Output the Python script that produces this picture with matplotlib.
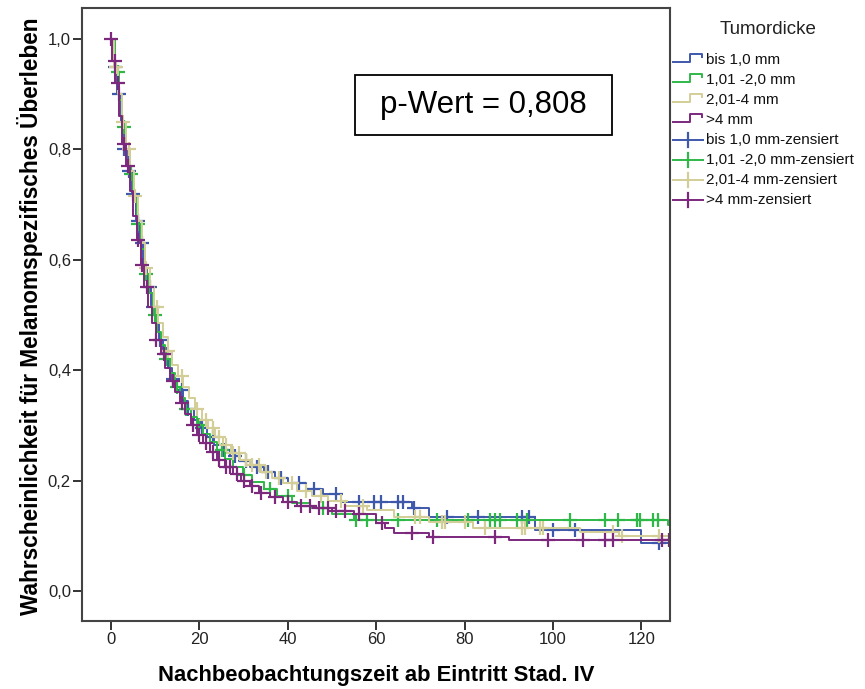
import numpy as np
import matplotlib
matplotlib.use("Agg")
import matplotlib.pyplot as plt
from matplotlib.lines import Line2D
from matplotlib.patches import Rectangle

plt.rcParams['font.family'] = ['Liberation Sans', 'DejaVu Sans']

# Kaplan-Meier steps per Tumordicke group: event times (months) and survival after each event
blue_t = [0.6, 1.4, 2.2, 3.0, 3.9, 4.7, 5.6, 6.4, 7.3, 8.1, 9.0, 9.9, 10.8, 11.8, 12.8, 13.9,
          15.0, 16.2, 17.5, 18.8, 20.2, 21.8, 23.4, 25.2, 27.0, 29.0, 31.5, 34.5, 37.0, 40.0,
          44.0, 48.0, 52.0, 68.0, 72.0, 96.0, 120.0]
blue_s = [0.95, 0.90, 0.85, 0.80, 0.76, 0.72, 0.67, 0.63, 0.585, 0.55, 0.515, 0.485, 0.455, 0.43,
          0.405, 0.385, 0.365, 0.345, 0.33, 0.31, 0.295, 0.28, 0.265, 0.255, 0.245, 0.235, 0.225,
          0.215, 0.205, 0.195, 0.185, 0.176, 0.162, 0.15, 0.135, 0.11, 0.087]
blue_cens = [0.9, 1.8, 3.0, 4.1, 5.0, 6.0, 7.0, 8.8, 9.5, 11.0, 12.5, 14.0, 16.0, 17.5, 20.5,
             23.0, 25.5, 28.0, 30.5, 33.0, 35.5, 38.5, 42.5, 46.0, 51.0, 56.0, 59.5, 61.0, 65.0,
             66.0, 68.5, 76.0, 83.0, 93.0, 94.5, 100.0, 105.0, 124.0]

green_t = [0.9, 1.7, 2.5, 3.4, 4.2, 5.0, 5.8, 6.7, 7.6, 8.5, 9.4, 10.3, 11.3, 12.3, 13.4, 14.5,
           15.6, 16.8, 18.0, 19.4, 20.8, 22.3, 24.0, 25.8, 27.6, 29.8, 32.0, 34.5, 37.5, 41.0,
           45.0, 50.0, 55.0, 126.0]
green_s = [0.94, 0.89, 0.84, 0.80, 0.755, 0.71, 0.665, 0.62, 0.575, 0.54, 0.50, 0.47, 0.445, 0.42,
           0.395, 0.37, 0.35, 0.33, 0.315, 0.30, 0.285, 0.27, 0.255, 0.24, 0.225, 0.21, 0.198,
           0.185, 0.172, 0.16, 0.15, 0.14, 0.128, 0.12]
green_cens = [1.5, 3.0, 4.5, 6.0, 8.0, 10.0, 12.5, 15.0, 17.0, 20.0, 25.0, 30.0, 36.0, 40.0,
              48.0, 55.5, 58.0, 65.0, 73.7, 80.8, 85.7, 86.9, 88.0, 91.8, 94.0, 103.8, 111.8,
              114.7, 119.0, 119.7, 122.6, 123.8]

yellow_t = [0.7, 1.6, 2.6, 3.5, 4.4, 5.2, 6.0, 6.9, 7.8, 8.8, 9.7, 10.7, 11.7, 12.8, 13.9, 15.1,
            16.3, 17.6, 19.0, 20.5, 22.0, 23.6, 25.4, 27.2, 29.2, 31.5, 34.0, 36.5, 39.0, 42.0,
            45.5, 49.0, 53.0, 58.0, 64.0, 72.0, 82.0, 106.0, 115.0]
yellow_s = [0.95, 0.90, 0.85, 0.80, 0.76, 0.715, 0.67, 0.63, 0.585, 0.55, 0.515, 0.485, 0.46,
            0.435, 0.41, 0.39, 0.37, 0.35, 0.33, 0.31, 0.295, 0.28, 0.265, 0.25, 0.238, 0.228,
            0.215, 0.205, 0.195, 0.182, 0.172, 0.163, 0.155, 0.147, 0.135, 0.125, 0.114, 0.107,
            0.10]
yellow_cens = [1.2, 2.8, 4.0, 5.5, 8.0, 10.5, 13.0, 16.0, 19.5, 21.5, 23.0, 24.5, 26.0, 27.5,
               29.0, 30.5, 32.0, 33.5, 35.0, 38.0, 41.0, 44.0, 47.5, 52.0, 57.0, 68.8, 69.9,
               74.8, 75.6, 80.0, 84.6, 92.9, 93.7, 97.0, 97.8, 113.6, 115.5, 124.0]

purple_t = [0.3, 1.0, 1.8, 2.6, 3.4, 4.2, 5.0, 5.8, 6.7, 7.5, 8.4, 9.3, 10.2, 11.2, 12.2, 13.3,
            14.4, 15.5, 16.7, 18.0, 19.4, 20.9, 22.4, 24.0, 25.7, 27.5, 29.5, 31.5, 33.5, 36.0,
            39.0, 42.0, 46.0, 50.0, 55.0, 60.0, 62.0, 64.0, 72.0, 90.0]
purple_s = [0.96, 0.92, 0.86, 0.81, 0.77, 0.725, 0.68, 0.635, 0.59, 0.55, 0.515, 0.485, 0.455,
            0.43, 0.405, 0.38, 0.36, 0.34, 0.32, 0.30, 0.283, 0.268, 0.252, 0.238, 0.225, 0.212,
            0.20, 0.19, 0.178, 0.17, 0.162, 0.155, 0.15, 0.145, 0.14, 0.123, 0.114, 0.105,
            0.098, 0.092]
purple_cens = [0.0, 0.9, 1.5, 3.0, 3.9, 6.1, 7.0, 8.1, 10.2, 12.0, 14.0, 16.0, 18.5, 20.0, 21.5,
               23.0, 24.5, 26.0, 27.0, 28.5, 30.0, 32.0, 34.0, 37.0, 40.0, 43.0, 45.0, 47.0,
               49.0, 51.0, 53.0, 56.0, 61.3, 68.0, 72.9, 86.9, 98.9, 106.8, 111.8, 113.6, 124.7,
               126.3]

follow_up_end = 130.0

groups = ["bis 1,0 mm", "1,01 -2,0 mm", "2,01-4 mm", ">4 mm"]
colors = ["#3E58AC", "#2EB848", "#D3CE97", "#7C287D"]
series = [(blue_t, blue_s, blue_cens), (green_t, green_s, green_cens),
          (yellow_t, yellow_s, yellow_cens), (purple_t, purple_s, purple_cens)]

p_text = "p-Wert = 0,808"


def surv_at(times, surv, t):
    idx = np.searchsorted(times, t, side="right")
    vals = np.concatenate([[1.0], surv])
    return vals[idx]


W, H = 865.0, 689.0
fig = plt.figure(figsize=(8.65, 6.89), dpi=100)
ax = fig.add_axes([0.0948, 0.0987, 0.68, 0.8897])

for (t, s, c), col in zip(series, colors):
    x = np.concatenate([[0.0], t, [follow_up_end]])
    y = np.concatenate([[1.0], s, [s[-1]]])
    ax.step(x, y, where="post", color=col, lw=1.4)
    cy = surv_at(np.array(t), np.array(s), np.array(c))
    ax.plot(c, cy, ls="none", marker="+", ms=10, mew=1.6, color=col)

ax.set_xlim(-6.56, 126.5)
ax.set_ylim(-0.054, 1.056)
ax.set_xticks(np.arange(0, 121, 20))
ax.set_yticks(np.arange(0, 1.01, 0.2))
ax.set_yticklabels([f"{v:.1f}".replace(".", ",") for v in np.arange(0, 1.01, 0.2)])
ax.tick_params(direction="out", length=6.5, width=1.4, color="#333333",
               labelsize=12, labelcolor="#222222", pad=1.5)
for sp in ax.spines.values():
    sp.set_color("#444444")
    sp.set_linewidth(1.5)

# axis titles placed in figure pixels
fig.text(376 / W, 1 - 676 / H, "Nachbeobachtungszeit ab Eintritt Stad. IV", fontsize=15.8,
         fontweight="bold", ha="center", va="center")
fig.text(30 / W, 1 - 316 / H, "Wahrscheinlichkeit für Melanomspezifisches Überleben",
         fontsize=16.3, fontweight="bold", ha="center", va="center", rotation=90)

# p-value box
fig.patches.append(Rectangle((355 / W, 1 - 135 / H), 257 / W, 60 / H, transform=fig.transFigure,
                             fill=False, ec="black", lw=1.3))
fig.text(483 / W, 1 - 105 / H, p_text, fontsize=22.5, ha="center", va="center")

# legend drawn in figure pixels
fig.text(768 / W, 1 - 29 / H, "Tumordicke", fontsize=13.5, ha="center", va="center",
         color="#222222")
labels = groups + [g + "-zensiert" for g in groups]
for i, lab in enumerate(labels):
    yc = 60 + 20 * i
    col = colors[i % 4]
    if i < 4:
        xs = [673, 690, 690, 702, 702]
        ys = [yc + 2, yc + 2, yc - 6.5, yc - 6.5, yc - 3]
        fig.add_artist(Line2D([v / W for v in xs], [1 - v / H for v in ys],
                              transform=fig.transFigure, color=col, lw=1.4))
    else:
        fig.add_artist(Line2D([673 / W, 703 / W], [1 - yc / H, 1 - yc / H],
                              transform=fig.transFigure, color=col, lw=1.4))
        fig.add_artist(Line2D([688 / W, 688 / W], [1 - (yc - 7) / H, 1 - (yc + 7) / H],
                              transform=fig.transFigure, color=col, lw=1.6))
    fig.text(706 / W, 1 - yc / H, lab, fontsize=11, ha="left", va="center", color="#111111")

fig.savefig("out.png", dpi=100)
